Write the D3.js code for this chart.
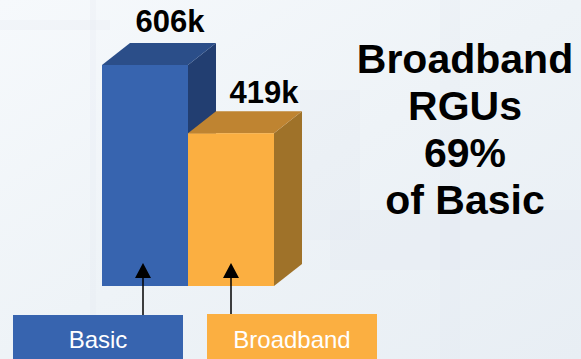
<!DOCTYPE html>
<html><head><meta charset="utf-8">
<script src="https://cdn.jsdelivr.net/npm/d3@7"></script>
<style>html,body{margin:0;padding:0;overflow:hidden;background:#fff}</style>
</head><body>
<svg id="c" width="581" height="359"></svg>
<script>
const categories = ["Basic", "Broadband"];
const values = [606, 419];
const valueLabels = ["606k", "419k"];
const headline = ["Broadband", "RGUs", "69%", "of Basic"];

const colors = {
  Basic: {front: "#3764AF", top: "#2B4E89", side: "#223E71"},
  Broadband: {front: "#FBAF41", top: "#BF8431", side: "#9F7229"}
};

const svg = d3.select("#c");
const W = 581, H = 359;

// background
const defs = svg.append("defs");
const g1 = defs.append("linearGradient").attr("id","bg").attr("x1","0").attr("y1","0").attr("x2","1").attr("y2","1");
g1.append("stop").attr("offset","0").attr("stop-color","#f6f9fc");
g1.append("stop").attr("offset","0.5").attr("stop-color","#eef3f7");
g1.append("stop").attr("offset","1").attr("stop-color","#e8eef4");
svg.append("rect").attr("width",W).attr("height",H).attr("fill","url(#bg)");
const bgBits = [[300,90,60,150],[330,210,250,60],[0,20,110,10],[440,0,20,359],[90,0,6,359]];
svg.selectAll("rect.bgb").data(bgBits).join("rect").attr("class","bgb")
  .attr("x",d=>d[0]).attr("y",d=>d[1]).attr("width",d=>d[2]).attr("height",d=>d[3])
  .attr("fill","#dfe7ef").attr("opacity",0.2);

const x = d3.scaleBand().domain(categories).range([102, 274]).padding(0);
const y = d3.scaleLinear().domain([0, 606]).range([286, 65]);
const dx = 28, dy = -22;
const bw = x.bandwidth();

const data = categories.map((c,i)=>({c, v: values[i], label: valueLabels[i]}));

const bars = svg.append("g");
data.forEach(d => {
  const x0 = x(d.c), x1 = x0 + bw, yt = y(d.v), yb = y(0);
  const col = colors[d.c];
  bars.append("path").attr("fill", col.side)
    .attr("d", `M${x1},${yt}L${x1+dx},${yt+dy}L${x1+dx},${yb+dy}L${x1},${yb}Z`);
  bars.append("path").attr("fill", col.top)
    .attr("d", `M${x0},${yt}L${x0+dx},${yt+dy}L${x1+dx},${yt+dy}L${x1},${yt}Z`);
  bars.append("rect").attr("fill", col.front)
    .attr("x", x0).attr("y", yt).attr("width", bw).attr("height", yb - yt);
});

// value labels
const labOff = [68, 76];
const labDy = [-11, -8];
svg.selectAll("text.val").data(data).join("text").attr("class","val")
  .attr("x",(d,i)=>x(d.c)+labOff[i]).attr("y",(d,i)=>y(d.v)+dy+labDy[i])
  .attr("text-anchor","middle")
  .attr("font-family","Liberation Sans, Arial, sans-serif")
  .attr("font-weight","bold").attr("font-size",31).attr("fill","#000")
  .text(d=>d.label);

// headline
svg.append("text")
  .attr("font-family","Liberation Sans, Arial, sans-serif")
  .attr("font-weight","bold").attr("font-size",41).attr("fill","#000")
  .attr("text-anchor","middle")
  .selectAll("tspan").data(headline).join("tspan")
  .attr("x",465).attr("y",(d,i)=>73 + i*47).text(d=>d);

// category boxes
const boxX = [13, 207], boxY = [315, 314];
const arrowX = [143, 231];
const lg = svg.append("g");
data.forEach((d,i)=>{
  lg.append("rect").attr("x",boxX[i]).attr("y",boxY[i]).attr("width",170).attr("height",H-boxY[i]+2)
    .attr("fill", colors[d.c].front);
  lg.append("text").attr("x",boxX[i]+85).attr("y",348).attr("text-anchor","middle")
    .attr("font-family","Liberation Sans, Arial, sans-serif").attr("font-size",24).attr("fill","#fff")
    .text(d.c);
  const ax = arrowX[i], tip = 263;
  lg.append("line").attr("x1",ax).attr("x2",ax).attr("y1",boxY[i]).attr("y2",tip+12)
    .attr("stroke","#000").attr("stroke-width",1.5);
  lg.append("path").attr("d",`M${ax},${tip}L${ax-8},${tip+15}L${ax+8},${tip+15}Z`).attr("fill","#000");
});
</script>
</body></html>
